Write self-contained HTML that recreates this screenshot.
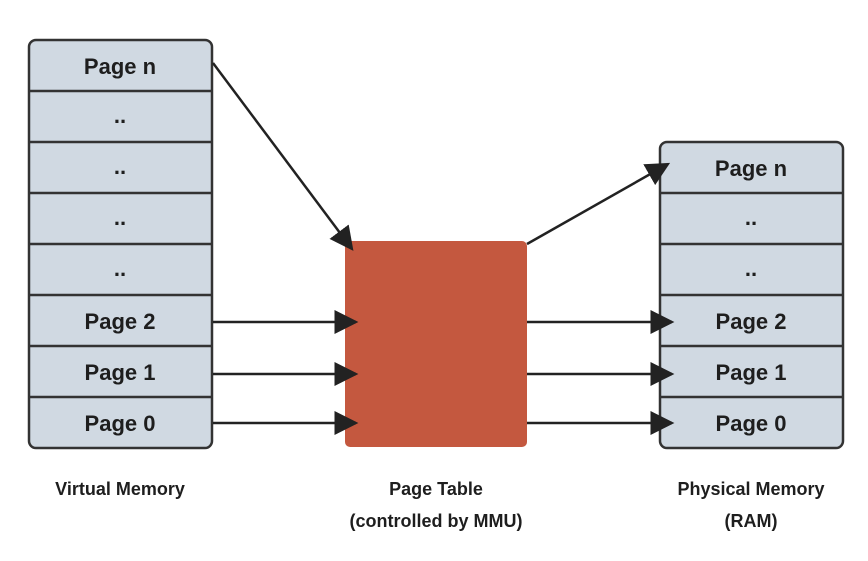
<!DOCTYPE html>
<html><head><style>
body{margin:0;background:#fff;}
svg text{font-family:"Liberation Sans",sans-serif;font-weight:bold;fill:#1e1e1e;}
</style></head><body>
<svg width="868" height="556" viewBox="0 0 868 556" xmlns="http://www.w3.org/2000/svg">
<defs><marker id="a" viewBox="0 0 10 10" refX="9" refY="5" markerWidth="24" markerHeight="24" markerUnits="userSpaceOnUse" orient="auto"><path d="M0,0L10,5L0,10z" fill="#222"/></marker></defs>
<g stroke="#333" stroke-width="2.5" fill="#d0d9e2">
<rect x="29" y="40" width="183" height="408" rx="7"/>
<rect x="660" y="142" width="183" height="306" rx="7"/>
</g>
<g stroke="#333" stroke-width="2.5">
<line x1="29" x2="212" y1="91" y2="91"/><line x1="29" x2="212" y1="142" y2="142"/><line x1="29" x2="212" y1="193" y2="193"/><line x1="29" x2="212" y1="244" y2="244"/><line x1="29" x2="212" y1="295" y2="295"/><line x1="29" x2="212" y1="346" y2="346"/><line x1="29" x2="212" y1="397" y2="397"/>
<line x1="660" x2="843" y1="193" y2="193"/><line x1="660" x2="843" y1="244" y2="244"/><line x1="660" x2="843" y1="295" y2="295"/><line x1="660" x2="843" y1="346" y2="346"/><line x1="660" x2="843" y1="397" y2="397"/>
</g>
<rect x="345" y="241" width="182" height="206" rx="5" fill="#c4583f"/>
<g stroke="#222" stroke-width="2.5" marker-end="url(#a)">
<line x1="213" y1="63" x2="352" y2="249"/>
<line x1="213" y1="322" x2="356" y2="322"/>
<line x1="213" y1="374" x2="356" y2="374"/>
<line x1="213" y1="423" x2="356" y2="423"/>
<line x1="527" y1="244" x2="668" y2="164"/>
<line x1="527" y1="322" x2="672" y2="322"/>
<line x1="527" y1="374" x2="672" y2="374"/>
<line x1="527" y1="423" x2="672" y2="423"/>
</g>
<g font-size="22" text-anchor="middle">
<text x="120" y="74">Page n</text><text x="120" y="123">..</text><text x="120" y="174">..</text><text x="120" y="225">..</text><text x="120" y="276">..</text>
<text x="120" y="329">Page 2</text><text x="120" y="380">Page 1</text><text x="120" y="431">Page 0</text>
<text x="751" y="176">Page n</text><text x="751" y="225">..</text><text x="751" y="276">..</text>
<text x="751" y="329">Page 2</text><text x="751" y="380">Page 1</text><text x="751" y="431">Page 0</text>
</g>
<g font-size="18" text-anchor="middle">
<text x="120" y="495">Virtual Memory</text>
<text x="436" y="495">Page Table</text>
<text x="436" y="527">(controlled by MMU)</text>
<text x="751" y="495">Physical Memory</text>
<text x="751" y="527">(RAM)</text>
</g>
</svg>
</body></html>
